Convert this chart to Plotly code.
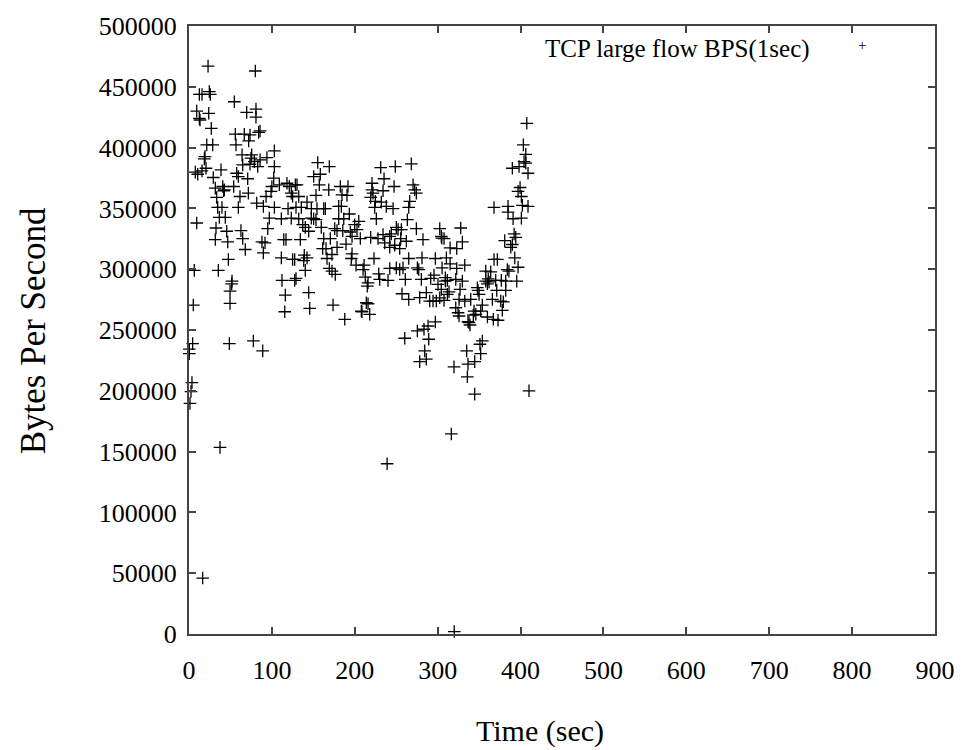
import plotly.graph_objects as go

# Time (sec) and Bytes Per Second
time_sec = [
    23, 80, 12.5, 15.7, 24.5, 25.7, 54.7, 9.3, 12.5, 13.3, 23.8, 69.6, 80.8, 80.8, 26.9, 55.9, 66.7, 73.6, 72, 84,
    85.7, 21.4, 28.6, 56.7, 103, 19.3, 18.5, 64, 75.6, 74.8, 94, 64.8, 73.6, 78.8, 85.7, 82.9, 103, 7.6, 10.5, 15.7,
    20.5, 38.6, 29.3, 57.5, 59.5, 70.8, 102.2, 31.7, 40.7, 42.6, 41.9, 53.9, 61.5, 71.6, 33.4, 100, 99, 93, 34.6, 39.8,
    59.5, 81.7, 89.7, 103, 9.3, 36.6, 43.8, 96.9, 32.6, 45.5, 62.7, 64.8, 95, 31.7, 46.7, 67.9, 88, 91.7, 89.7, 47.5,
    6.4, 35.4, 51.9, 51.5, 49.5, 5.2, 49.5, 4.4, 0.4, 0.4, 48.7, 77.6, 88.9, 3.6, 2.4, 1.2, 16.5, 37.4,
    155.3, 169.3, 150.4, 158.4, 109, 118.2, 121, 128.3, 130.3, 157.2, 168.6, 182.6, 191.8, 184.6, 190.6, 153.2, 123.4, 125, 132.4, 142.4,
    119.5, 129.1, 135.5, 147.6, 154.4, 162.5, 164.5, 180.6, 183.8, 193.4, 111.4, 123.4, 132.4, 147.6, 150.4, 153.2, 180.6, 186.7, 137.2, 140.3,
    144.4, 159.6, 175.8, 178.6, 185.5, 194.6, 196.7, 199.9, 204.8, 202.7, 206.7, 114.3, 117, 134.3, 162.5, 170.5, 161.3, 165.3, 178.6, 189.4,
    196.7, 195.8, 201.5, 111.4, 125, 127.5, 139.1, 142.4, 138.4, 166.5, 172.5, 140.3, 169.3, 172.5, 176.5, 112.2, 127.5, 129.1, 116.2, 144.4,
    115.5, 145.6, 173.8, 187.9, 207.9,
    231.3, 248.9, 268.2, 235.3, 220.8, 220.8, 222, 234.1, 247.4, 270.3, 272.3, 274.3, 219.2, 224.8, 232, 224, 238, 246.2, 266.3, 265.1,
    226, 263.4, 219.2, 228, 234.1, 236.1, 242.2, 244.1, 250.1, 252.2, 256.2, 255.4, 262.2, 242.2, 248.2, 254.2, 274.3, 282.3, 302.5, 304.4,
    305, 307.7, 223.2, 265.1, 281.1, 297.2, 211.2, 210, 228.9, 230.1, 242.2, 250.1, 254.2, 258.2, 275.5, 277.2, 305.3, 212.7, 216, 215.1,
    240.1, 261, 280.3, 291.6, 295.6, 300.4, 304.4, 309.3, 309.3, 257, 265.1, 278.3, 286.3, 290.4, 294.4, 298.4, 302.5, 307.7, 213.9, 216,
    208.7, 218, 297.2, 260.3, 275.5, 283.5, 288.4, 289.2, 284.4, 278.3, 286.3, 310.5,
    407.5, 403.4, 406.3, 404.2, 406.3, 409, 390.1, 398.2, 399.4, 397, 401, 402.2, 409, 368, 384.9, 384.9, 391, 401, 327.8, 392.2,
    394.2, 380.9, 388.2, 390.1, 329.8, 315, 323, 368, 372, 393, 315, 332.7, 323, 397, 384, 386, 358, 364, 311.7, 321.8,
    329.8, 358, 360, 370, 376.8, 382.1, 395.4, 347.9, 348.7, 327, 313.7, 311.7, 371.3, 382.1, 350, 325.8, 332.7, 339.9, 366, 376.1,
    379.2, 321.8, 324.6, 325.8, 353.9, 352, 343.9, 346, 343, 378, 360, 367.2, 372.8, 336.6, 339, 337.8, 353.9, 351, 351.9, 335,
    344.7, 336.6, 319.7, 335.8, 344.7, 410.2, 316.5, 320, 239, 361, 362,
]
bytes_per_sec = [
    467000, 463000, 443700, 443700, 446000, 443700, 437700, 430000, 424000, 422700, 428200, 429000, 431700, 425000, 415800, 411000, 411000, 410400, 405500, 412500,
    413700, 402200, 402200, 402200, 397300, 392600, 390700, 394000, 394000, 391300, 391800, 385800, 386300, 388500, 389900, 384400, 384400, 379800, 378100, 380900,
    383000, 381700, 375400, 378900, 376200, 374400, 374900, 366700, 368000, 365300, 364500, 368000, 359800, 362600, 359000, 368000, 364000, 359800, 350800, 350800,
    350800, 354400, 351700, 350800, 338000, 342600, 342600, 342000, 333900, 331200, 331700, 325200, 333400, 324400, 322400, 316200, 322400, 321600, 313400, 308000,
    299000, 299000, 290200, 288000, 282000, 270500, 271900, 238800, 234200, 230600, 238800, 241000, 232800, 206800, 199400, 189600, 46000, 153500,
    387700, 384400, 376200, 378100, 369400, 370700, 368000, 369400, 369400, 369400, 365300, 368000, 368000, 361200, 360700, 360700, 362600, 359800, 359800, 355200,
    349800, 350800, 350800, 349800, 349800, 349800, 349800, 351700, 351700, 345400, 341500, 342000, 341500, 342000, 341500, 340700, 341500, 341500, 336600, 334400,
    331200, 334400, 333400, 331700, 331700, 330600, 327000, 336600, 339300, 332600, 325200, 324400, 324400, 324400, 325200, 325200, 317000, 317000, 318000, 320700,
    312600, 308800, 303300, 309300, 308000, 308000, 311500, 309300, 307100, 308800, 312100, 299000, 300600, 298400, 295700, 290800, 290800, 292400, 278700, 280800,
    265000, 267800, 270500, 258800, 265600,
    383600, 384400, 386600, 374400, 370700, 365300, 362600, 364500, 368000, 369400, 365300, 362600, 359000, 355800, 355200, 350800, 351700, 349800, 355800, 350800,
    341500, 340700, 326200, 325200, 328400, 321600, 327000, 329000, 334400, 332600, 332600, 325200, 323000, 318000, 319700, 317000, 333400, 324400, 333400, 327000,
    325500, 325200, 308800, 308800, 309300, 308800, 303300, 299700, 296200, 291600, 300600, 301100, 299700, 301100, 301100, 299700, 301100, 293500, 288800, 286100,
    290800, 291600, 291600, 292400, 295100, 287500, 283400, 293000, 290200, 279800, 275200, 276700, 280800, 273800, 273800, 273800, 276500, 274400, 272400, 271600,
    265000, 262900, 256600, 243200, 249200, 250600, 253300, 242400, 232800, 224000, 226000, 309300,
    420000, 402200, 394500, 388500, 387200, 378900, 383000, 384400, 367200, 364000, 359800, 352500, 351700, 350800, 351700, 347000, 341500, 342000, 333900, 329000,
    326200, 323500, 318000, 320300, 322400, 317500, 317000, 308000, 308000, 309300, 304400, 303300, 300600, 301600, 299700, 298400, 298400, 297800, 290800, 291600,
    290200, 290200, 288000, 290800, 290800, 290200, 290200, 284800, 282600, 283400, 281400, 279300, 282600, 282600, 279300, 275200, 273800, 275200, 275200, 273800,
    273200, 268300, 264200, 261500, 270500, 265600, 265600, 262900, 262300, 266200, 260700, 258800, 258000, 256800, 254100, 256100, 241000, 238300, 230600, 232800,
    224000, 221900, 219700, 211500, 197300, 200000, 164500, 2000, 140000, 292000, 289500,
]

x_ticks = [0, 100, 200, 300, 400, 500, 600, 700, 800, 900]
y_ticks = [0, 50000, 100000, 150000, 200000, 250000, 300000, 350000, 400000, 450000, 500000]

series_name = "TCP large flow BPS(1sec)"
x_title = "Time (sec)"
y_title = "Bytes Per Second"

FONT = "Liberation Serif, Times New Roman, serif"
AXIS_COLOR = "#444444"

fig = go.Figure()
fig.add_trace(go.Scatter(
    x=time_sec, y=bytes_per_sec, mode="markers", name=series_name,
    marker=dict(symbol="cross-thin", size=9, color="black",
                line=dict(width=1.3, color="black")),
    cliponaxis=False, showlegend=False,
))

axis_common = dict(
    showgrid=False, zeroline=False, showline=True, linecolor=AXIS_COLOR, linewidth=2,
    mirror="ticks", ticks="inside", ticklen=7, tickwidth=1.5, tickcolor=AXIS_COLOR,
    tickfont=dict(family=FONT, size=26, color="black"),
)

fig.update_xaxes(range=[0, 900], tickvals=x_ticks, ticktext=[str(v) for v in x_ticks],
                 ticklabelstandoff=12, **axis_common)
fig.update_yaxes(range=[0, 500000], tickvals=y_ticks, ticktext=[str(v) for v in y_ticks],
                 ticklabelstandoff=5, **axis_common)

fig.add_annotation(text=x_title, xref="paper", yref="paper", x=0.47, y=-0.16,
                   showarrow=False, xanchor="center", yanchor="middle",
                   font=dict(family=FONT, size=30, color="black"))
fig.add_annotation(text=y_title, xref="paper", yref="paper", x=-0.209, y=0.498,
                   showarrow=False, textangle=-90, xanchor="center", yanchor="middle",
                   font=dict(family=FONT, size=35, color="black"))
# key (gnuplot style: text then sample), inside the plot box below the top border
fig.add_annotation(text=series_name, xref="paper", yref="paper", x=0.835, y=0.962,
                   showarrow=False, xanchor="right", yanchor="middle",
                   font=dict(family=FONT, size=25, color="black"))
fig.add_annotation(text="+", xref="paper", yref="paper", x=0.902, y=0.968,
                   showarrow=False, xanchor="center", yanchor="middle",
                   font=dict(family=FONT, size=15, color="black"))

fig.update_layout(
    width=977, height=750,
    margin=dict(l=189, r=42, t=24, b=116),
    paper_bgcolor="white", plot_bgcolor="white",
)

fig.write_html("out.html")
